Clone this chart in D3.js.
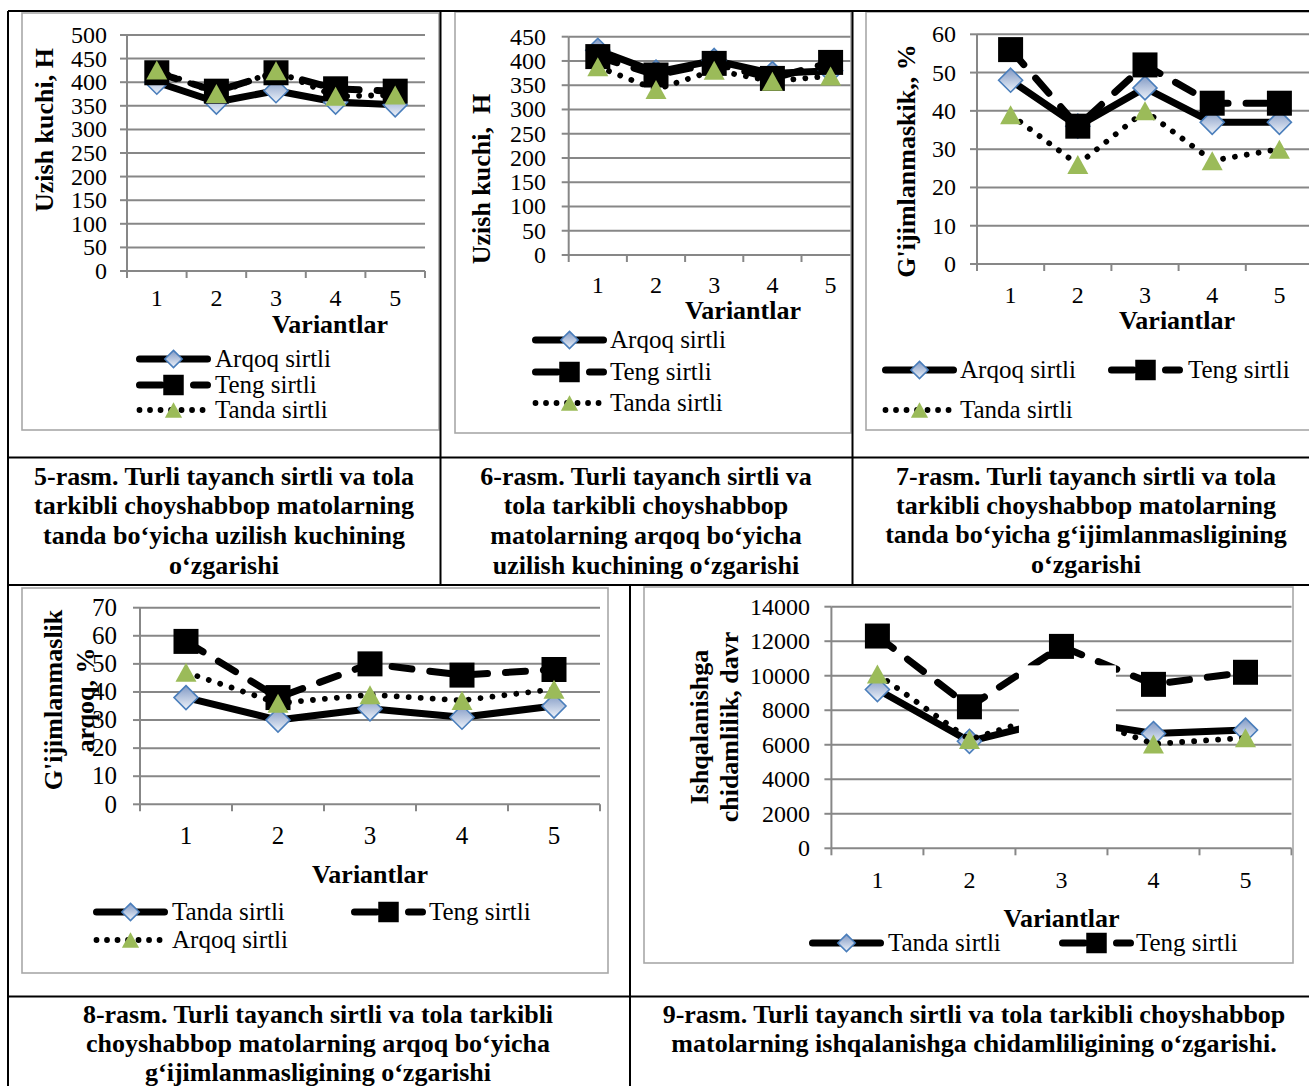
<!DOCTYPE html>
<html>
<head>
<meta charset="utf-8">
<script src="https://cdn.jsdelivr.net/npm/d3@7"></script>
<style>
  html, body { margin: 0; padding: 0; background: #fff; }
  svg { display: block; }
  text { font-family: "Liberation Serif", "Times New Roman", serif; fill: #000; }
</style>
</head>
<body>
<svg id="chart" width="1309" height="1086"></svg>
<script>
// ---- data ----
const variantlar = [1, 2, 3, 4, 5];

// 5-rasm: tanda bo'yicha uzilish kuchi, H
const r5Arqoq = [400, 358, 382, 358, 352];
const r5Teng  = [420, 381, 420, 386, 381];
const r5Tanda = [426, 376, 424, 370, 373];
const r5Ticks = [0, 50, 100, 150, 200, 250, 300, 350, 400, 450, 500];

// 6-rasm: arqoq bo'yicha uzilish kuchi, H
const r6Arqoq = [422, 377, 401, 374, 380];
const r6Teng  = [409, 371, 395, 364, 397];
const r6Tanda = [388, 341, 381, 358, 369];
const r6Ticks = [0, 50, 100, 150, 200, 250, 300, 350, 400, 450];

// 7-rasm: tanda bo'yicha g'ijimlanmaslik, %
const r7Arqoq = [48, 36, 46, 37, 37];
const r7Teng  = [56, 36, 52, 42, 42];
const r7Tanda = [39, 26, 40, 27, 30];
const r7Ticks = [0, 10, 20, 30, 40, 50, 60];

// 8-rasm: arqoq bo'yicha g'ijimlanmaslik, %
const r8Tanda = [38, 30, 34, 31, 35];
const r8Teng  = [58, 38, 50, 46, 48];
const r8Arqoq = [47, 36, 39, 37, 41];
const r8Ticks = [0, 10, 20, 30, 40, 50, 60, 70];

// 9-rasm: ishqalanishga chidamlilik, davr
const r9Tanda = [9200, 6200, 7500, 6650, 6850];
const r9Teng  = [12300, 8200, 11700, 9500, 10200];
const r9Arqoq = [10100, 6300, 8000, 6050, 6400];
const r9Ticks = [0, 2000, 4000, 6000, 8000, 10000, 12000, 14000];

// ---- drawing ----
const svg = d3.select('#chart');
const defs = svg.append('defs');

const grad = defs.append('linearGradient').attr('id', 'diamondFill')
  .attr('x1', 0).attr('y1', 0).attr('x2', 0).attr('y2', 1);
grad.append('stop').attr('offset', '0%').attr('stop-color', '#8199c4');
grad.append('stop').attr('offset', '100%').attr('stop-color', '#eef3fa');

const GRID = '#878787';
const FRAME = '#a8a8a8';

const lineStyles = {
  solid:  { width: 7,   dash: null,      legendDash: null,          marker: 'diamond' },
  dashed: { width: 7,   dash: '20,18',   legendDash: '22,32,14,40', marker: 'square' },
  dotted: { width: 5.8, dash: '0.01,12', legendDash: '0.01,10.5',   marker: 'triangle' }
};

function markerPath(kind, s) {
  if (kind === 'diamond') { const h = 12 * s; return `M0,${-h}L${h},0L0,${h}L${-h},0Z`; }
  if (kind === 'triangle') { const w = 10.5 * s, h = 9.5 * s; return `M0,${-h}L${w},${h}L${-w},${h}Z`; }
  const h = 12.5 * s; return `M${-h},${-h}H${h}V${h}H${-h}Z`;
}
function styleMarker(sel, kind) {
  if (kind === 'diamond') sel.attr('fill', 'url(#diamondFill)').attr('stroke', '#4a7ebb').attr('stroke-width', 1.6);
  else if (kind === 'triangle') sel.attr('fill', '#9bbb59');
  else sel.attr('fill', '#000');
}

function drawPanel(p) {
  const clipId = 'clip' + p.id;
  defs.append('clipPath').attr('id', clipId).append('rect')
    .attr('x', p.frame.x).attr('y', p.frame.y).attr('width', p.frame.w).attr('height', p.frame.h);
  const g = svg.append('g').attr('clip-path', `url(#${clipId})`);

  const x = d3.scaleBand().domain(variantlar).range([p.x0, p.x1]);
  const y = d3.scaleLinear().domain([0, p.max]).range([p.yBot, p.yTop]);
  const cx = v => x(v) + x.bandwidth() / 2;

  // horizontal gridlines
  g.selectAll(null).data(p.ticks.filter(t => t > 0)).join('line')
    .attr('x1', p.x0).attr('x2', p.x1).attr('y1', d => y(d)).attr('y2', d => y(d))
    .attr('stroke', GRID).attr('stroke-width', 2);
  // y axis + tick marks
  g.append('line').attr('x1', p.x0).attr('x2', p.x0).attr('y1', p.yTop).attr('y2', p.yBot)
    .attr('stroke', GRID).attr('stroke-width', 2);
  g.selectAll(null).data(p.ticks).join('line')
    .attr('x1', p.x0 - 7).attr('x2', p.x0).attr('y1', d => y(d)).attr('y2', d => y(d))
    .attr('stroke', GRID).attr('stroke-width', 2);
  // x axis + tick marks at category boundaries
  g.append('line').attr('x1', p.x0).attr('x2', p.x1).attr('y1', p.yBot).attr('y2', p.yBot)
    .attr('stroke', GRID).attr('stroke-width', 2);
  g.selectAll(null).data(variantlar.map(v => x(v)).concat([p.x1])).join('line')
    .attr('x1', d => d).attr('x2', d => d).attr('y1', p.yBot).attr('y2', p.yBot + 7)
    .attr('stroke', GRID).attr('stroke-width', 2);

  // tick labels
  g.selectAll(null).data(p.ticks).join('text')
    .attr('x', p.labelRight).attr('y', d => y(d)).attr('dy', '0.33em')
    .attr('text-anchor', 'end').attr('font-size', p.tickFs).text(d => d);
  g.selectAll(null).data(variantlar).join('text')
    .attr('x', d => cx(d)).attr('y', p.xLabelBase)
    .attr('text-anchor', 'middle').attr('font-size', p.tickFs).text(d => d);

  // axis titles
  p.title.lines.forEach((t, i) => {
    g.append('text').attr('transform', `translate(${p.title.base[i]},${p.title.cy}) rotate(-90)`)
      .attr('text-anchor', 'middle').attr('font-size', 26).attr('font-weight', 'bold').text(t);
  });
  g.append('text').attr('x', p.varX).attr('y', p.varBase).attr('text-anchor', 'middle')
    .attr('font-size', 26).attr('font-weight', 'bold').text('Variantlar');

  // series: line first, then its markers
  p.series.forEach(s => {
    const st = lineStyles[s.style];
    const line = d3.line().x((d, i) => cx(variantlar[i])).y(d => y(d));
    g.append('path').attr('d', line(s.values)).attr('fill', 'none').attr('stroke', '#000')
      .attr('stroke-width', st.width).attr('stroke-linecap', 'round').attr('stroke-linejoin', 'round')
      .attr('stroke-dasharray', st.dash);
    g.selectAll(null).data(s.values).join('path')
      .attr('transform', (d, i) => `translate(${cx(variantlar[i])},${y(d)})`)
      .attr('d', markerPath(st.marker, 1)).call(styleMarker, st.marker);
  });

  if (p.after) p.after(g, x, y, cx);

  // legend
  p.legend.forEach(it => {
    const st = lineStyles[it.style];
    g.append('line').attr('x1', it.x + 3.5).attr('x2', it.x + 71.5).attr('y1', it.y).attr('y2', it.y)
      .attr('stroke', '#000').attr('stroke-width', st.width).attr('stroke-linecap', 'round')
      .attr('stroke-dasharray', st.legendDash);
    g.append('path').attr('transform', `translate(${it.x + 37.5},${it.y})`)
      .attr('d', markerPath(st.marker, st.marker === 'diamond' ? 0.72 : 0.82)).call(styleMarker, st.marker);
    g.append('text').attr('x', it.tx).attr('y', it.y + 7.5).attr('font-size', 25).text(it.label);
  });

  // chart frame
  svg.append('rect').attr('x', p.frame.x).attr('y', p.frame.y)
    .attr('width', p.frame.w).attr('height', p.frame.h)
    .attr('fill', 'none').attr('stroke', FRAME).attr('stroke-width', 1.6);
}

drawPanel({
  id: 5, frame: { x: 22, y: 13, w: 417, h: 417 },
  x0: 127, x1: 425, yTop: 35, yBot: 271, max: 500, ticks: r5Ticks,
  tickFs: 24, labelRight: 107, xLabelBase: 306,
  title: { lines: ['Uzish kuchi, H'], base: [53], cy: 130 },
  varX: 330, varBase: 333,
  series: [
    { values: r5Arqoq, style: 'solid' },
    { values: r5Teng, style: 'dashed' },
    { values: r5Tanda, style: 'dotted' }
  ],
  legend: [
    { label: 'Arqoq sirtli', style: 'solid',  x: 136, y: 359, tx: 215 },
    { label: 'Teng sirtli',  style: 'dashed', x: 136, y: 385, tx: 215 },
    { label: 'Tanda sirtli', style: 'dotted', x: 136, y: 410, tx: 215 }
  ]
});

drawPanel({
  id: 6, frame: { x: 455, y: 12, w: 396, h: 421 },
  x0: 568.7, x1: 859.7, yTop: 36.7, yBot: 255, max: 450, ticks: r6Ticks,
  tickFs: 24, labelRight: 546, xLabelBase: 293,
  title: { lines: ['Uzish kuchi,\u00a0 H'], base: [490], cy: 179 },
  varX: 743, varBase: 319,
  series: [
    { values: r6Arqoq, style: 'solid' },
    { values: r6Teng, style: 'dashed' },
    { values: r6Tanda, style: 'dotted' }
  ],
  legend: [
    { label: 'Arqoq sirtli', style: 'solid',  x: 532, y: 340, tx: 610 },
    { label: 'Teng sirtli',  style: 'dashed', x: 532, y: 372, tx: 610 },
    { label: 'Tanda sirtli', style: 'dotted', x: 532, y: 403, tx: 610 }
  ]
});

drawPanel({
  id: 7, frame: { x: 866, y: 12, w: 460, h: 418 },
  x0: 977, x1: 1313, yTop: 34.3, yBot: 264, max: 60, ticks: r7Ticks,
  tickFs: 24, labelRight: 956, xLabelBase: 303,
  title: { lines: ["G'ijimlanmaskik,, %"], base: [915], cy: 161 },
  varX: 1177, varBase: 329,
  series: [
    { values: r7Arqoq, style: 'solid' },
    { values: r7Teng, style: 'dashed' },
    { values: r7Tanda, style: 'dotted' }
  ],
  legend: [
    { label: 'Arqoq sirtli', style: 'solid',  x: 882,  y: 370, tx: 960 },
    { label: 'Teng sirtli',  style: 'dashed', x: 1108, y: 370, tx: 1188 },
    { label: 'Tanda sirtli', style: 'dotted', x: 882,  y: 410, tx: 960 }
  ]
});

drawPanel({
  id: 8, frame: { x: 22, y: 588, w: 586, h: 385 },
  x0: 140, x1: 600, yTop: 607.7, yBot: 804.3, max: 70, ticks: r8Ticks,
  tickFs: 25, labelRight: 117, xLabelBase: 844,
  title: { lines: ["G'ijimlanmaslik", 'arqoq, %'], base: [62, 94], cy: 700 },
  varX: 370, varBase: 883,
  series: [
    { values: r8Tanda, style: 'solid' },
    { values: r8Teng, style: 'dashed' },
    { values: r8Arqoq, style: 'dotted' }
  ],
  legend: [
    { label: 'Tanda sirtli', style: 'solid',  x: 93,  y: 912, tx: 172 },
    { label: 'Teng sirtli',  style: 'dashed', x: 351, y: 912, tx: 429 },
    { label: 'Arqoq sirtli', style: 'dotted', x: 93,  y: 940, tx: 172 }
  ]
});

drawPanel({
  id: 9, frame: { x: 644, y: 587, w: 649, h: 376 },
  x0: 831.4, x1: 1291.5, yTop: 606.7, yBot: 848.3, max: 14000, ticks: r9Ticks,
  tickFs: 24, labelRight: 810, xLabelBase: 888,
  title: { lines: ['Ishqalanishga', 'chidamlilik, davr'], base: [708, 738], cy: 727 },
  varX: 1061.6, varBase: 927,
  series: [
    { values: r9Tanda, style: 'solid' },
    { values: r9Teng, style: 'dashed' },
    { values: r9Arqoq, style: 'dotted' }
  ],
  // blank box over variant 3
  after: (g, x, y, cx) => {
    g.append('rect').attr('x', cx(3) - 42.5).attr('y', y(10600))
      .attr('width', 97).attr('height', y(6400) - y(10600)).attr('fill', '#fff');
  },
  legend: [
    { label: 'Tanda sirtli', style: 'solid',  x: 809,  y: 943, tx: 888 },
    { label: 'Teng sirtli',  style: 'dashed', x: 1059, y: 943, tx: 1136 }
  ]
});

// ---- captions ----
function caption(lines, cx, bases) {
  lines.forEach((t, i) => {
    svg.append('text').attr('x', cx).attr('y', bases[i]).attr('text-anchor', 'middle')
      .attr('font-size', 26).attr('font-weight', 'bold').text(t);
  });
}
caption(['5-rasm. Turli tayanch sirtli va tola', 'tarkibli choyshabbop matolarning',
         'tanda bo‘yicha uzilish kuchining', 'o‘zgarishi'], 224, [485, 514, 544, 574]);
caption(['6-rasm. Turli tayanch sirtli va', 'tola tarkibli choyshabbop',
         'matolarning arqoq bo‘yicha', 'uzilish kuchining o‘zgarishi'], 646, [485, 514, 544, 574]);
caption(['7-rasm. Turli tayanch sirtli va tola', 'tarkibli choyshabbop matolarning',
         'tanda bo‘yicha g‘ijimlanmasligining', 'o‘zgarishi'], 1086, [485, 514, 543, 573]);
caption(['8-rasm. Turli tayanch sirtli va tola tarkibli', 'choyshabbop matolarning arqoq bo‘yicha',
         'g‘ijimlanmasligining o‘zgarishi'], 318, [1023, 1052, 1081]);
caption(['9-rasm. Turli tayanch sirtli va tola tarkibli choyshabbop',
         'matolarning ishqalanishga chidamliligining o‘zgarishi.'], 974, [1023, 1052]);

// ---- table rules ----
const rules = [
  [8, 11, 1309, 11], [8, 11, 8, 1086],
  [440.5, 11, 440.5, 585], [852.5, 11, 852.5, 585],
  [8, 457.5, 1309, 457.5], [8, 585, 1309, 585],
  [630, 585, 630, 1086], [8, 996.5, 1309, 996.5]
];
svg.selectAll(null).data(rules).join('line')
  .attr('x1', d => d[0]).attr('y1', d => d[1]).attr('x2', d => d[2]).attr('y2', d => d[3])
  .attr('stroke', '#000').attr('stroke-width', 2);
</script>
</body>
</html>
